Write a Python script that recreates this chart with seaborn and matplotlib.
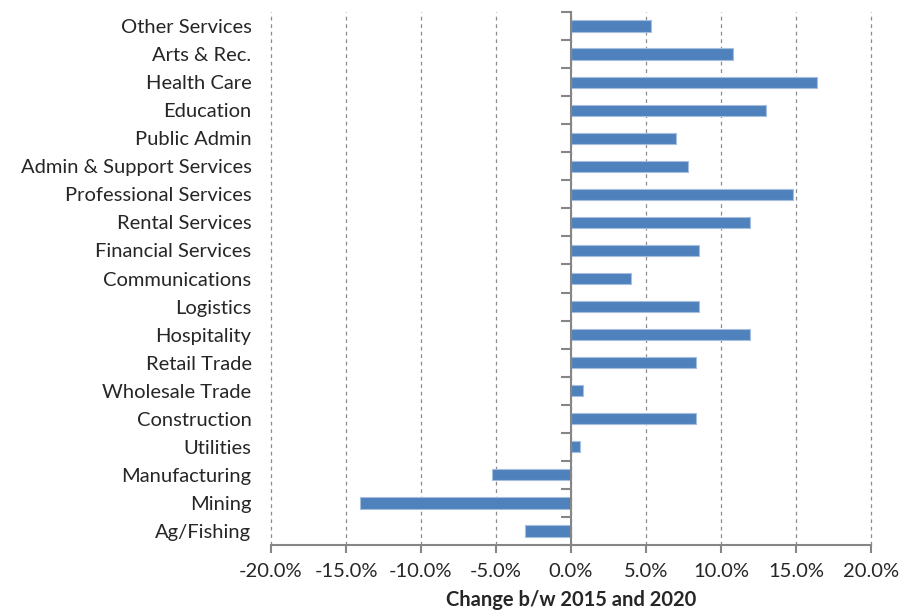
import matplotlib
matplotlib.use("Agg")
import matplotlib.pyplot as plt
import seaborn as sns
import pandas as pd
import numpy as np
from matplotlib.ticker import FixedLocator, PercentFormatter

sectors = ["Other Services", "Arts & Rec.", "Health Care", "Education", "Public Admin",
           "Admin & Support Services", "Professional Services", "Rental Services",
           "Financial Services", "Communications", "Logistics", "Hospitality",
           "Retail Trade", "Wholesale Trade", "Construction", "Utilities",
           "Manufacturing", "Mining", "Ag/Fishing"]
change = [5.35, 10.8, 16.4, 13.0, 7.0, 7.8, 14.8, 11.9, 8.5, 4.0, 8.55, 11.95,
          8.35, 0.8, 8.3, 0.6, -5.25, -14.1, -3.05]
xticks = [-20, -15, -10, -5, 0, 5, 10, 15, 20]
xlabel = "Change b/w 2015 and 2020"

sns.set_theme(style="white")
plt.rcParams['font.family'] = ['Lato', 'DejaVu Sans']
plt.rcParams['axes.unicode_minus'] = False

df = pd.DataFrame({"sector": sectors, "change": change})

fig = plt.figure(figsize=(9.01, 6.11), dpi=100)
ax = fig.add_axes([271/901, 1 - 545/611, 600/901, (545 - 12)/611])

sns.barplot(data=df, x="change", y="sector", orient="h", color="#4F81BD",
            width=0.4, edgecolor="#A7BFDE", linewidth=0.8, saturation=1, ax=ax, zorder=3)

ax.set_xlim(-20, 20)
ax.set_ylim(len(sectors) - 0.5, -0.5)
ax.set_xticks(xticks)
ax.xaxis.set_major_formatter(PercentFormatter(decimals=1))
ax.grid(axis="x", color="#8C8C8C", linestyle=(0, (3, 3)), linewidth=0.9, zorder=0)
ax.grid(axis="y", visible=False)
for gl in ax.get_xgridlines():
    gl.set_clip_on(False)

for s in ["top", "right", "left"]:
    ax.spines[s].set_visible(False)
ax.spines["bottom"].set_color("#868686")
ax.spines["bottom"].set_linewidth(1.5)
ax.tick_params(axis="x", direction="out", length=6, width=1.5, color="#868686",
               labelsize=14.5, pad=7, bottom=True)
ax.tick_params(axis="y", length=0, labelsize=14.5, pad=14, left=False)
ax.set_ylabel("")
ax.set_xlabel(xlabel, fontsize=14.5, fontweight="bold", labelpad=7)

# category-axis line at zero with boundary tick marks
ax2 = ax.twinx()
ax2.set_ylim(ax.get_ylim())
ax2.yaxis.tick_left()
ax2.spines["left"].set_position(("data", 0))
ax2.spines["left"].set_color("#868686")
ax2.spines["left"].set_linewidth(1.5)
for s in ["top", "right", "bottom"]:
    ax2.spines[s].set_visible(False)
ax2.yaxis.set_major_locator(FixedLocator(np.arange(-0.5, len(sectors), 1.0)))
ax2.tick_params(axis="y", direction="out", length=7, width=1.5, color="#868686",
                labelleft=False, labelright=False)
ax2.grid(False)

fig.savefig("out.png", dpi=100)
